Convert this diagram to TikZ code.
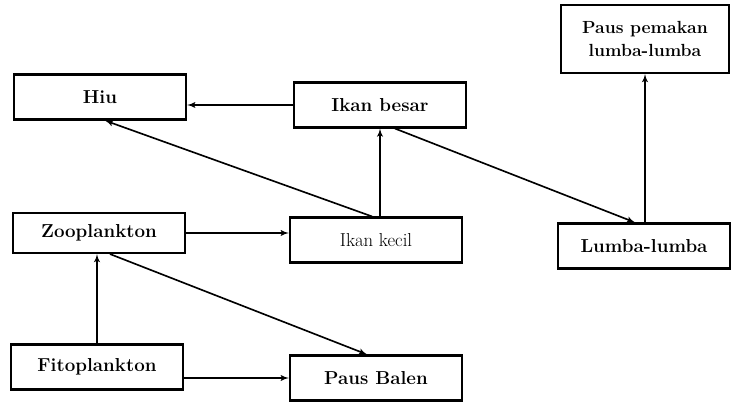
\documentclass[tikz,border=0pt]{standalone}
\usepackage{amsmath}
\usepackage{tikz}
\usetikzlibrary{arrows, positioning, calc}
\tikzset{
   mybox/.style={draw, line width=1.8pt, minimum height=1.35cm, minimum width=5.17cm, font=\fontsize{16}{19}\selectfont\bfseries},
   mythin/.style={draw, line width=1.8pt, minimum height=1.35cm, minimum width=5.17cm, font=\fontsize{16}{19}\selectfont},
   mytall/.style={draw, line width=1.8pt, minimum height=2.04cm, minimum width=5.04cm, font=\fontsize{15}{19}\selectfont\bfseries, align=center}
}

\begin{document}
\begin{tikzpicture}[->,>=latex',line width=1.4pt]
         \tikzstyle{line} = [draw, -latex']
            \useasboundingbox (0,0) rectangle (22.02,12.15);
            \node[mybox] (hiu) at (3.00,9.24) {Hiu};
            \node[mybox] (ikanbesar) at (11.40,9.00) {Ikan besar};
            \node[mybox, minimum height=1.2cm] (zooplankton) at (2.97,5.16) {Zooplankton};
            \node[mythin] (ikankecil) at (11.28,4.95) {Ikan kecil};
            \node[mybox] (fitoplankton) at (2.91,1.14) {Fitoplankton};
            \node[mybox] (pausbalen) at (11.28,0.81) {Paus Balen};
            \node[mybox] (lumba) at (19.32,4.77) {Lumba-lumba};
            \node[mytall] (pemakan) at (19.35,10.98) {Paus pemakan\\lumba-lumba};
            \path [line] (ikanbesar.west) -- (ikanbesar.west -| hiu.east);
            \path [line] ([xshift=-.12cm]ikankecil.north) -- ([xshift=.15cm]hiu.south);
            \path [line] (ikanbesar.south |- ikankecil.north) -- (ikanbesar.south);
            \path [line] ([xshift=.45cm]ikanbesar.south) -- ([xshift=-.27cm]lumba.north);
            \path [line] (zooplankton.east) -- (zooplankton.east -| ikankecil.west);
            \path [line] ([xshift=.33cm]zooplankton.south) -- ([xshift=-.27cm]pausbalen.north);
            \path [line] (fitoplankton.north) -- (fitoplankton.north |- zooplankton.south);
            \path [line] (pausbalen.west -| fitoplankton.east) -- (pausbalen.west);
            \path [line] (pemakan.south |- lumba.north) -- (pemakan.south);
      \end{tikzpicture}
\end{document}
